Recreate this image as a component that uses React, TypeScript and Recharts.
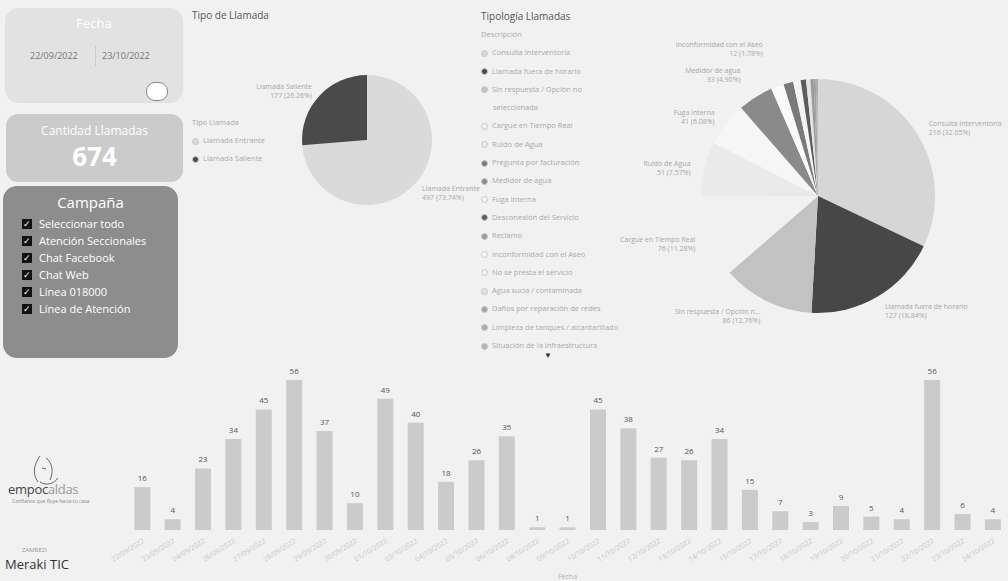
import { Bar, BarChart, Cell, LabelList, Pie, PieChart, XAxis, YAxis } from 'recharts';

const fechas = [
  '22/09/2022', '23/09/2022', '24/09/2022', '26/09/2022', '27/09/2022', '28/09/2022',
  '29/09/2022', '30/09/2022', '01/10/2022', '03/10/2022', '04/10/2022', '05/10/2022',
  '06/10/2022', '08/10/2022', '09/10/2022', '10/10/2022', '11/10/2022', '12/10/2022',
  '13/10/2022', '14/10/2022', '15/10/2022', '17/10/2022', '18/10/2022', '19/10/2022',
  '20/10/2022', '21/10/2022', '22/10/2022', '23/10/2022', '24/10/2022',
];
const llamadasPorFecha = [
  16, 4, 23, 34, 45, 56, 37, 10, 49, 40, 18, 26, 35, 1, 1,
  45, 38, 27, 26, 34, 15, 7, 3, 9, 5, 4, 56, 6, 4,
];

const tiposLlamada = ['Llamada Entrante', 'Llamada Saliente'];
const tiposValores = [497, 177];
const tiposColores = ['#dadada', '#4a4a4a'];

const tipologias = [
  'Consulta Interventoría', 'Llamada fuera de horario', 'Sin respuesta / Opción no seleccionada',
  'Cargue en Tiempo Real', 'Ruido de Agua', 'Fuga interna', 'Medidor de agua',
  'Inconformidad con el Aseo', 'Pregunta por facturación', 'No se presta el servicio',
  'Desconexión del Servicio', 'Agua sucia / contaminada', 'Reclamo',
  'Daños por reparación de redes', 'Limpieza de tanques / alcantarillado', 'Situación de la infraestructura',
];
const tipologiaValores = [216, 127, 86, 76, 51, 41, 33, 12, 9, 7, 5, 4, 3, 2, 1, 1];
const tipologiaColores = [
  '#d6d6d6', '#474747', '#c2c2c2', '#f1f1f1', '#eaeaea', '#f6f6f6', '#8a8a8a',
  '#fafafa', '#7a7a7a', '#f3f3f3', '#5c5c5c', '#e4e4e4', '#9a9a9a', '#a2a2a2', '#ababab', '#b2b2b2',
];
const ordenLeyenda = [
  'Consulta Interventoría', 'Llamada fuera de horario', 'Sin respuesta / Opción no seleccionada',
  'Cargue en Tiempo Real', 'Ruido de Agua', 'Pregunta por facturación', 'Medidor de agua', 'Fuga interna',
  'Desconexión del Servicio', 'Reclamo', 'Inconformidad con el Aseo', 'No se presta el servicio',
  'Agua sucia / contaminada', 'Daños por reparación de redes', 'Limpieza de tanques / alcantarillado',
  'Situación de la infraestructura',
];

const campanas = ['Seleccionar todo', 'Atención Seccionales', 'Chat Facebook', 'Chat Web', 'Línea 018000', 'Línea de Atención'];

const barData = fechas.map((f, i) => ({ fecha: f, llamadas: llamadasPorFecha[i] }));
const tipoData = tiposLlamada.map((n, i) => ({ name: n, value: tiposValores[i] }));
const tipologiaData = tipologias.map((n, i) => ({ name: n, value: tipologiaValores[i] }));

const FONT = "'Segoe UI', 'Open Sans', 'Noto Sans', sans-serif";
const RAD = Math.PI / 180;

function pieLabel(minValue: number, gap: number, stagger: number) {
  return (props: any) => {
    const { cx, cy, midAngle, outerRadius, name, value, percent, index } = props;
    if (value < minValue) return null;
    // push the labels of the narrow slices further out so they don't collide
    const extra = index >= 6 ? (index - 5) * stagger : 0;
    const r = outerRadius + gap + extra;
    const x = cx + r * Math.cos(-midAngle * RAD);
    const y = cy + r * Math.sin(-midAngle * RAD);
    const anchor = Math.abs(x - cx) < 20 ? 'middle' : x > cx ? 'start' : 'end';
    const short = name.length > 26 ? name.slice(0, 24) + '…' : name;
    return (
      <text x={x} y={y} textAnchor={anchor} fontSize={7} fill="#a8a8a8" fontFamily={FONT}>
        <tspan x={x}>{short}</tspan>
        <tspan x={x} dy={9}>{value} ({(percent * 100).toFixed(2)}%)</tspan>
      </text>
    );
  };
}

function Dot({ color }: { color: string }) {
  return (
    <span
      style={{
        display: 'inline-block', width: 7, height: 7, borderRadius: '50%', background: color,
        marginRight: 4, verticalAlign: 'middle', border: '1px solid #c8c8c8', boxSizing: 'border-box',
      }}
    />
  );
}

export default function App() {
  return (
    <div
      style={{
        position: 'absolute', left: 0, top: 0, width: 1008, height: 581, overflow: 'hidden',
        background: '#f1f1f1', fontFamily: FONT,
      }}
    >
      {/* Fecha */}
      <div style={{ position: 'absolute', left: 5, top: 8, width: 178, height: 95, background: '#e2e2e2', borderRadius: 14 }}>
        <div style={{ textAlign: 'center', color: '#fff', fontSize: 13, marginTop: 6 }}>Fecha</div>
        <div style={{ position: 'absolute', top: 41, left: 25, fontSize: 9, color: '#777' }}>22/09/2022</div>
        <div style={{ position: 'absolute', top: 38, left: 90, width: 1, height: 20, background: '#ccc' }} />
        <div style={{ position: 'absolute', top: 41, left: 97, fontSize: 9, color: '#777' }}>23/10/2022</div>
        <div style={{ position: 'absolute', top: 74, left: 141, width: 20, height: 17, borderRadius: 9, border: '1.5px solid #888', background: '#fff' }} />
      </div>

      {/* Cantidad Llamadas */}
      <div style={{ position: 'absolute', left: 6, top: 114, width: 177, height: 68, background: '#cbcbcb', borderRadius: 12, textAlign: 'center', color: '#fff' }}>
        <div style={{ fontSize: 12, marginTop: 8 }}>Cantidad Llamadas</div>
        <div style={{ fontSize: 26, fontWeight: 700, lineHeight: '30px', marginTop: 2 }}>674</div>
      </div>

      {/* Campaña */}
      <div style={{ position: 'absolute', left: 3, top: 186, width: 175, height: 172, background: '#8d8d8d', borderRadius: 14, color: '#fff' }}>
        <div style={{ textAlign: 'center', fontSize: 15, marginTop: 6 }}>Campaña</div>
        <div style={{ marginTop: 3 }}>
          {campanas.map((c) => (
            <div key={c} style={{ display: 'flex', alignItems: 'center', height: 17, paddingLeft: 19, fontSize: 11 }}>
              <span
                style={{
                  display: 'inline-block', width: 10, height: 10, background: '#111', color: '#fff',
                  fontSize: 9, lineHeight: '10px', textAlign: 'center', marginRight: 7,
                }}
              >
                ✓
              </span>
              {c}
            </div>
          ))}
        </div>
      </div>

      {/* Logos */}
      <svg style={{ position: 'absolute', left: 28, top: 452 }} width={50} height={36}>
        <path d="M12 4 C 6 12, 4 22, 10 30 M18 6 C 24 10, 26 20, 22 28 M14 16 L 18 17 M12 30 C 18 34, 26 32, 30 26" stroke="#666" fill="none" strokeWidth={1} />
      </svg>
      <div style={{ position: 'absolute', left: 8, top: 480, fontSize: 13, color: '#444', letterSpacing: -0.3 }}>
        empoc<span style={{ color: '#999' }}>aldas</span>
      </div>
      <div style={{ position: 'absolute', left: 12, top: 498, fontSize: 5, color: '#888' }}>Confianza que fluye hacia tu casa</div>
      <div style={{ position: 'absolute', left: 22, top: 546, fontSize: 6, color: '#999' }}>ZAMBEZI</div>
      <div style={{ position: 'absolute', left: 5, top: 555, fontSize: 13, color: '#333' }}>Meraki TIC</div>

      {/* Tipo de Llamada */}
      <div style={{ position: 'absolute', left: 192, top: 8, fontSize: 10, color: '#555' }}>Tipo de Llamada</div>
      <div style={{ position: 'absolute', left: 192, top: 113, fontSize: 7.5, color: '#aaa', lineHeight: '18px' }}>
        <div>Tipo Llamada</div>
        {tiposLlamada.map((n, i) => (
          <div key={n}><Dot color={tiposColores[i]} />{n}</div>
        ))}
      </div>
      <div style={{ position: 'absolute', left: 250, top: 40 }}>
        <PieChart width={245} height={200}>
          <Pie
            data={tipoData}
            dataKey="value"
            nameKey="name"
            cx={112}
            cy={95}
            outerRadius={65}
            startAngle={90}
            endAngle={-270}
            stroke="none"
            labelLine={false}
            label={pieLabel(0, 10, 0)}
            isAnimationActive={false}
          >
            {tipoData.map((d, i) => (
              <Cell key={d.name} fill={tiposColores[i]} />
            ))}
          </Pie>
        </PieChart>
      </div>

      {/* Tipología Llamadas */}
      <div style={{ position: 'absolute', left: 481, top: 9, fontSize: 10, color: '#555' }}>Tipología Llamadas</div>
      <div style={{ position: 'absolute', left: 481, top: 25, width: 150, fontSize: 7.5, color: '#aaa', lineHeight: '18.3px' }}>
        <div>Descripción</div>
        {ordenLeyenda.map((n, i) => {
          const cut = n.lastIndexOf(' ');
          return (
            <div key={n} style={{ whiteSpace: 'nowrap' }}>
              <Dot color={tipologiaColores[tipologias.indexOf(n)]} />
              {i === 2 ? n.slice(0, cut) : n}
              {i === 2 && <div style={{ paddingLeft: 12 }}>{n.slice(cut + 1)}</div>}
            </div>
          );
        })}
      </div>
      <div style={{ position: 'absolute', left: 544, top: 349, fontSize: 8, color: '#333' }}>▼</div>
      <div style={{ position: 'absolute', left: 600, top: 40 }}>
        <PieChart width={408} height={310}>
          <Pie
            data={tipologiaData}
            dataKey="value"
            nameKey="name"
            cx={213}
            cy={151}
            outerRadius={117}
            startAngle={90}
            endAngle={-270}
            stroke="none"
            labelLine={false}
            label={pieLabel(12, 14, 14)}
            isAnimationActive={false}
          >
            {tipologiaData.map((d, i) => (
              <Cell key={d.name} fill={tipologiaColores[i]} />
            ))}
          </Pie>
        </PieChart>
      </div>

      {/* Llamadas por fecha */}
      <div style={{ position: 'absolute', left: 85, top: 355 }}>
        <BarChart width={923} height={226} data={barData} margin={{ top: 25, right: 0, left: 42, bottom: 0 }} barCategoryGap="24%">
          <XAxis
            dataKey="fecha"
            interval={0}
            angle={-32}
            textAnchor="end"
            height={51}
            axisLine={false}
            tickLine={false}
            tick={{ fontSize: 7, fill: '#c4c4c4', fontFamily: FONT }}
            label={{ value: 'Fecha', position: 'insideBottom', offset: 2, fontSize: 7, fill: '#b0b0b0' }}
          />
          <YAxis hide domain={[0, 56]} />
          <Bar dataKey="llamadas" fill="#cbcbcb" isAnimationActive={false}>
            <LabelList dataKey="llamadas" position="top" offset={6} fontSize={8} fill="#555" fontFamily={FONT} />
          </Bar>
        </BarChart>
      </div>
    </div>
  );
}
